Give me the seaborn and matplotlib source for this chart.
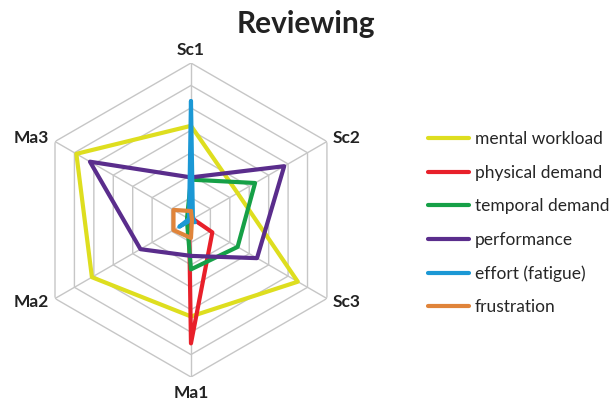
import numpy as np
import pandas as pd
import matplotlib
matplotlib.use("Agg")
import matplotlib.pyplot as plt
import seaborn as sns

# axes, clockwise from the top
axes_labels = ["Sc1", "Sc2", "Sc3", "Ma1", "Ma2", "Ma3"]

# values (outer ring = 70)
mental_workload = [42, 24, 55, 43, 51, 59]
physical_demand = [1, 1, 11, 55, 1, 1]
temporal_demand = [18, 33, 24, 22, 2, 2]
performance = [19, 48, 34, 16, 26, 52]
effort = [53, 1, 2, 0, 6, 1]
frustration = [4, 0.5, 0.5, 8, 9, 9]

series_names = ["mental workload", "physical demand", "temporal demand",
                "performance", "effort (fatigue)", "frustration"]
series_values = [mental_workload, physical_demand, temporal_demand,
                 performance, effort, frustration]
colors = ["#dede1f", "#e8202a", "#16a047", "#5a2d8c", "#1b98d5", "#e0843a"]

ring_levels = [10, 20, 30, 40, 50, 60, 70]

sns.set_theme(style="white")
plt.rcParams["font.family"] = ["Lato", "DejaVu Sans"]

n = len(axes_labels)
angles = np.linspace(0, 2 * np.pi, n, endpoint=False)
closed = np.append(angles, 2 * np.pi)

# long-form table, each polygon closed
rows = []
for name, vals in zip(series_names, series_values):
    for i, a in enumerate(closed):
        rows.append({"theta": a, "r": vals[i % n], "series": name, "order": i})
df = pd.DataFrame(rows)

fig = plt.figure(figsize=(6.11, 4.05), dpi=100)
ax = fig.add_axes([0.0556, 0.0691, 0.5139, 0.7753], projection="polar")
ax.set_theta_offset(np.pi / 2)
ax.set_theta_direction(-1)
ax.set_ylim(0, 70)
ax.grid(False)
ax.spines["polar"].set_visible(False)
ax.set_xticks([])
ax.set_yticks([])

# hexagonal grid
for lvl in ring_levels:
    ax.plot(closed, [lvl] * (n + 1), color="#c6c6c6", lw=1.0, zorder=1)
for a in angles:
    ax.plot([a, a], [0, 70], color="#c6c6c6", lw=1.0, zorder=1)

sns.lineplot(data=df, x="theta", y="r", hue="series", hue_order=series_names,
             palette=colors, sort=False, estimator=None, units="series",
             linewidth=3.0, ax=ax, legend=True, zorder=3)
ax.set_xlabel("")
ax.set_ylabel("")

handles, labels = ax.get_legend_handles_labels()
ax.legend_.remove()
fig.legend(handles, labels, loc="upper left", bbox_to_anchor=(0.70, 0.676),
           frameon=False, fontsize=12.5, handlelength=2.4, handletextpad=0.3,
           labelspacing=1.01, borderpad=0, borderaxespad=0)

# axis labels
label_pos = {
    "Sc1": (76, "center", "center"),
    "Sc2": (73, "left", "center"),
    "Sc3": (73, "left", "center"),
    "Ma1": (77, "center", "center"),
    "Ma2": (73, "right", "center"),
    "Ma3": (73, "right", "center"),
}
for a, lab in zip(angles, axes_labels):
    r, ha, va = label_pos[lab]
    ax.text(a, r, lab, ha=ha, va=va, fontsize=12.5, fontweight="bold",
            color="#222222")

fig.suptitle("Reviewing", x=0.5, y=0.975, fontsize=21.5, fontweight="bold",
             color="#222222")

fig.savefig("out.png", dpi=100)
